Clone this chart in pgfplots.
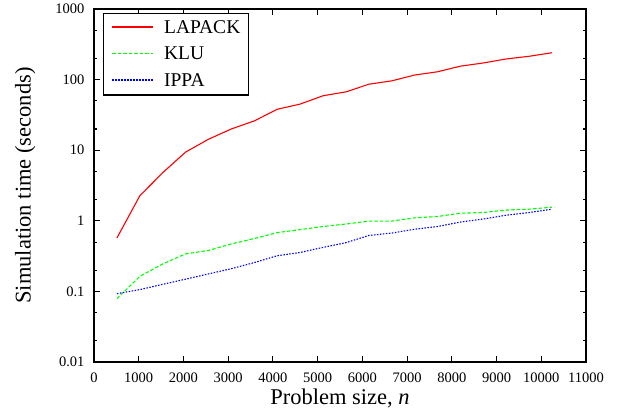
\documentclass[border=0pt]{standalone}
\usepackage{pgfplots}
\pgfplotsset{compat=1.18}
\usepackage{fontspec}
\setmainfont{Liberation Serif}
\begin{document}
\begin{tikzpicture}
\useasboundingbox (0pt,0pt) rectangle (630pt,413pt);
\begin{axis}[
  at={(94pt,51pt)}, anchor=south west,
  scale only axis, width=492pt, height=353pt,
  ymode=log, xmin=0, xmax=11000, ymin=0.01, ymax=1000,
  scaled x ticks=false,
  xtick={0,1000,2000,3000,4000,5000,6000,7000,8000,9000,10000,11000},
  xticklabels={0,1000,2000,3000,4000,5000,6000,7000,8000,9000,10000,11000},
  ytick={0.01,0.1,1,10,100,1000},
  yticklabels={0.01,0.1,1,10,100,1000},
  minor ytick={0.02,0.05,0.2,0.5,2,5,20,50,200,500},
  tick align=inside,
  major tick length=6pt, minor tick length=3.5pt,
  axis line style={line width=1.3pt},
  every tick/.style={line width=1.1pt, black},
  tick label style={font=\fontsize{14.5}{16}\selectfont},
  xticklabel style={yshift=-7pt},
  yticklabel style={xshift=-6pt},
  xlabel={Problem size, \textit{n}},
  ylabel={Simulation time (seconds)},
  label style={font=\fontsize{22.5}{25}\selectfont},
  xlabel style={at={(axis description cs:0.5,-0.119)}, anchor=base},
  ylabel style={at={(axis description cs:-0.140,0.5)}, anchor=center},
]
\addplot[draw=red, line width=1.1pt] coordinates {
(512,0.57) (1024,2.26) (1536,4.8) (2048,9.4) (2560,14.3) (3072,20) (3584,26)
(4096,38) (4608,45) (5120,59) (5632,67) (6144,86) (6656,96) (7168,116)
(7680,129) (8192,155) (8704,172) (9216,196) (9728,214) (10240,240)};
\addplot[draw=green, line width=1.1pt, dash pattern=on 3.5pt off 2pt] coordinates {
(512,0.079) (1024,0.163) (1536,0.245) (2048,0.34) (2560,0.38) (3072,0.47) (3584,0.56)
(4096,0.68) (4608,0.75) (5120,0.83) (5632,0.9) (6144,0.99) (6656,0.99) (7168,1.1)
(7680,1.15) (8192,1.28) (8704,1.31) (9216,1.42) (9728,1.46) (10240,1.56)};
\addplot[draw=blue, line width=1.1pt, dash pattern=on 1.5pt off 1.5pt] coordinates {
(512,0.093) (1024,0.106) (1536,0.126) (2048,0.149) (2560,0.177) (3072,0.21) (3584,0.256)
(4096,0.32) (4608,0.356) (5120,0.42) (5632,0.49) (6144,0.62) (6656,0.67) (7168,0.76)
(7680,0.83) (8192,0.96) (8704,1.06) (9216,1.2) (9728,1.31) (10240,1.46)};
\node[draw=black, fill=white, line width=1.3pt, anchor=north west, inner xsep=8pt, inner ysep=1pt,
  font=\fontsize{19.5}{26.5}\selectfont]
  at (rel axis cs:0.018,0.989) {%
  \begin{tabular}{@{}l@{\hspace{10pt}}l@{}}
  \tikz[baseline=-6pt]\draw[draw=red, line width=1.6pt] (0pt,0pt) -- (41pt,0pt); & LAPACK\\
  \tikz[baseline=-6pt]\draw[draw=green, line width=1.6pt, dash pattern=on 3.5pt off 2pt] (0pt,0pt) -- (41pt,0pt); & KLU\\
  \tikz[baseline=-6pt]\draw[draw=blue, line width=1.6pt, dash pattern=on 1.5pt off 1.5pt] (0pt,0pt) -- (41pt,0pt); & IPPA
  \end{tabular}};
\end{axis}
\end{tikzpicture}
\end{document}
